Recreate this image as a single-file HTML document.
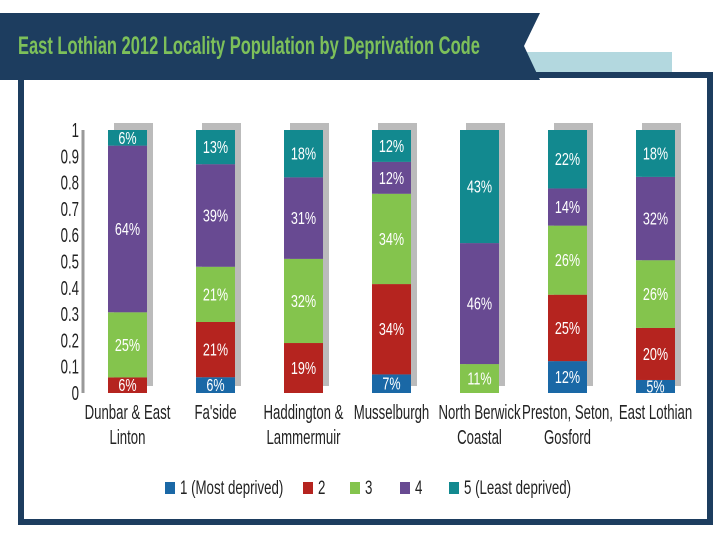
<!DOCTYPE html>
<html><head><meta charset="utf-8"><style>
body{margin:0;background:#fff;width:720px;height:540px;overflow:hidden}
svg{display:block;font-family:"Liberation Sans",sans-serif}
</style></head><body>
<svg width="720" height="540" viewBox="0 0 720 540">
<rect x="21" y="75" width="689" height="447" fill="none" stroke="#1d3d5f" stroke-width="6"/>
<rect x="525" y="52" width="147" height="20" fill="#b3d8df"/>
<polygon points="0,13 540,13 524,46 540,80 0,80" fill="#1d3d5f"/>
<text transform="translate(18,54) scale(0.66,1)" font-size="25" font-weight="bold" fill="#7dc05a">East Lothian 2012 Locality Population by Deprivation Code</text>
<line x1="83" y1="130" x2="83" y2="393" stroke="#999" stroke-width="3"/>
<g id="ticks"></g><g id="bars"></g><g id="cats"></g><g id="legend"></g>
</svg>
<script>
const categories=[["Dunbar & East","Linton"],["Fa'side"],["Haddington &","Lammermuir"],["Musselburgh"],["North Berwick","Coastal"],["Preston, Seton,","Gosford"],["East Lothian"]];
const s1=[0,6,0,7,0,12,5];
const s2=[6,21,19,34,0,25,20];
const s3=[25,21,32,34,11,26,26];
const s4=[64,39,31,12,46,14,32];
const s5=[6,13,18,12,43,22,18];
const ticks=[0,0.1,0.2,0.3,0.4,0.5,0.6,0.7,0.8,0.9,1];
const legendLabels=["1 (Most deprived)","2","3","4","5 (Least deprived)"];
const colors=["#1a68a6","#b5241f","#84c44d","#684a92","#12898f"];
const series=[s1,s2,s3,s4,s5];
const NS="http://www.w3.org/2000/svg";
const y=v=>393-v*263;
const x=i=>108+i*88;
const bw=39;
function mk(tag,attrs,parent){const e=document.createElementNS(NS,tag);for(const k in attrs)e.setAttribute(k,attrs[k]);parent.appendChild(e);return e;}
const tg=document.getElementById('ticks');
ticks.forEach(t=>{const e=mk('text',{transform:`translate(79,${y(t)+7}) scale(0.66,1)`,'font-size':20,'text-anchor':'end',fill:'#222'},tg);


e.textContent=String(t);});
const bg=document.getElementById('bars');
const cg=document.getElementById('cats');
categories.forEach((c,i)=>{
 const total=series.reduce((a,s)=>a+s[i],0);
 const sh=mk('rect',{x:x(i)+6,y:y(1)-7,width:bw,height:y(0)-y(1),fill:'#bbb'},bg);
 
 
 let acc=0;
 series.forEach((s,k)=>{const v=s[i]/total;if(v<=0)return;
  const r=mk('rect',{x:x(i),y:y(acc+v),width:bw,height:y(acc)-y(acc+v),fill:colors[k]},bg);
  
  
  const t=mk('text',{transform:`translate(${x(i)+bw/2},${y(acc+v/2)+6}) scale(0.7,1)`,'font-size':18,'text-anchor':'middle',fill:'#fff'},bg);
  
  
  t.textContent=s[i]+'%';
  acc+=v;});
 c.forEach((line,j)=>{const t=mk('text',{transform:`translate(${x(i)+bw/2},${419+j*25}) scale(0.66,1)`,'font-size':20,'text-anchor':'middle',fill:'#222'},cg);
  
  
  t.textContent=line;});
});
const lg=document.getElementById('legend');
const lx=[165,303,350,400,449];
legendLabels.forEach((l,k)=>{
 const r=mk('rect',{x:lx[k],y:482,width:10,height:12,fill:colors[k]},lg);
 
 
 const t=mk('text',{transform:`translate(${lx[k]+15},${494}) scale(0.7,1)`,'font-size':19,fill:'#222'},lg);
 
 
 t.textContent=l;});
</script>
</body></html>
